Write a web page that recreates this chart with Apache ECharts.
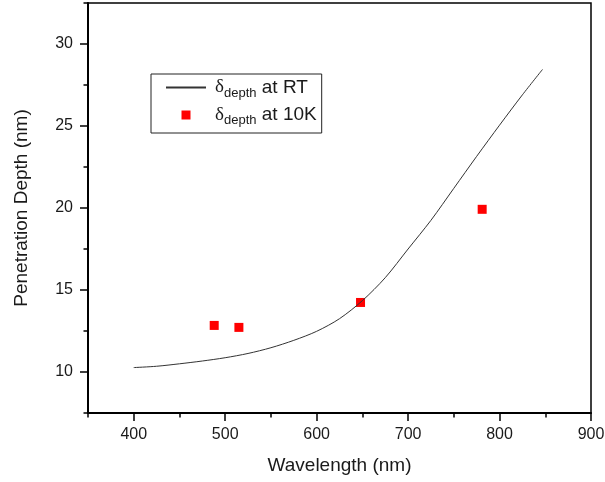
<!DOCTYPE html>
<html>
<head>
<meta charset="utf-8">
<script src="https://cdn.jsdelivr.net/npm/echarts@6/dist/echarts.min.js"></script>
<style>
  html, body { margin: 0; padding: 0; background: #fff; }
  #main { width: 605px; height: 482px; }
</style>
</head>
<body>
<div id="main"></div>
<script>
// curve at room temperature
var wavelengthRT = [400, 425, 450, 475, 500, 525, 550, 575, 600, 625, 650, 675, 700, 725, 750, 775, 800, 825, 847];
var depthRT = [10.27, 10.35, 10.5, 10.67, 10.87, 11.13, 11.48, 11.93, 12.48, 13.25, 14.35, 15.75, 17.5, 19.25, 21.2, 23.15, 25.05, 26.9, 28.45];

// measured points at 10K
var wavelength10K = [488, 515, 648, 781];
var depth10K = [12.84, 12.72, 14.24, 19.92];

// axis ticks
var xMajorTicks = [400, 500, 600, 700, 800, 900];
var yMajorTicks = [10, 15, 20, 25, 30];

var chart = echarts.init(document.getElementById('main'), null, { renderer: 'canvas' });

var textColor = '#1a1a1a';
var font = 'Arial, "Liberation Sans", sans-serif';

// legend text: delta with subscript "depth"
function legendLabel(name) {
  return '{g|δ}{s|depth}{t| at ' + name + '}';
}

var option = {
  backgroundColor: '#fff',
  animation: false,
  textStyle: { fontFamily: font, color: textColor },
  grid: {
    left: 88,
    right: 14,
    top: 3,
    bottom: 69,
    show: true,
    borderColor: '#000',
    borderWidth: 1.5,
    outerBoundsMode: 'none'
  },
  legend: {
    orient: 'vertical',
    left: 151,
    top: 74,
    padding: [4, 5, 6, 14],
    itemGap: 6,
    itemWidth: 40,
    itemHeight: 9,
    borderColor: '#222',
    borderWidth: 1,
    selectedMode: false,
    data: [
      { name: 'RT', itemStyle: { opacity: 0 } },
      { name: '10K', icon: 'path://M0,0H10V10H0Z' }
    ],
    formatter: legendLabel,
    textStyle: {
      color: textColor,
      rich: {
        g: { fontSize: 19, fontFamily: '"Liberation Serif", serif', lineHeight: 24, padding: [0, 0, 0, 4] },
        s: { fontSize: 13, fontFamily: font, lineHeight: 13, verticalAlign: 'bottom' },
        t: { fontSize: 19, fontFamily: font, lineHeight: 24 }
      }
    }
  },
  xAxis: [
    {
      type: 'value',
      min: 350,
      max: 900,
      interval: 50,
      position: 'bottom',
      name: 'Wavelength (nm)',
      nameLocation: 'middle',
      nameGap: 43,
      nameTextStyle: { fontSize: 19, color: textColor },
      axisLine: { onZero: false, lineStyle: { color: '#000', width: 2 } },
      axisTick: { inside: false, length: 4.5, lineStyle: { color: '#000', width: 1.5 } },
      axisLabel: { customValues: xMajorTicks, fontSize: 16, margin: 14, color: textColor },
      splitLine: { show: false }
    },
    {
      // longer ticks at labelled values
      type: 'value',
      min: 350,
      max: 900,
      interval: 50,
      position: 'bottom',
      axisLine: { show: false },
      axisTick: { customValues: xMajorTicks, inside: false, length: 8, lineStyle: { color: '#000', width: 1.5 } },
      axisLabel: { show: false },
      splitLine: { show: false }
    }
  ],
  yAxis: [
    {
      type: 'value',
      min: 7.5,
      max: 32.5,
      interval: 2.5,
      position: 'left',
      name: 'Penetration Depth (nm)',
      nameLocation: 'middle',
      nameGap: 57,
      nameRotate: 90,
      nameTextStyle: { fontSize: 19, color: textColor },
      axisLine: { onZero: false, lineStyle: { color: '#000', width: 2 } },
      axisTick: { inside: false, length: 4.5, lineStyle: { color: '#000', width: 1.5 } },
      axisLabel: { customValues: yMajorTicks, fontSize: 16, margin: 15, color: textColor },
      splitLine: { show: false }
    },
    {
      type: 'value',
      min: 7.5,
      max: 32.5,
      interval: 2.5,
      position: 'left',
      axisLine: { show: false },
      axisTick: { customValues: yMajorTicks, inside: false, length: 8, lineStyle: { color: '#000', width: 1.5 } },
      axisLabel: { show: false },
      splitLine: { show: false }
    }
  ],
  series: [
    {
      name: 'RT',
      type: 'line',
      xAxisIndex: 0,
      yAxisIndex: 0,
      symbol: 'none',
      smooth: 0.3,
      lineStyle: { color: '#333', width: 1 },
      itemStyle: { color: '#333' },
      data: wavelengthRT.map(function (w, i) { return [w, depthRT[i]]; })
    },
    {
      name: '10K',
      type: 'scatter',
      xAxisIndex: 0,
      yAxisIndex: 0,
      symbol: 'rect',
      symbolSize: 9,
      itemStyle: { color: '#ff0000', opacity: 1 },
      data: wavelength10K.map(function (w, i) { return [w, depth10K[i]]; })
    }
  ]
};

chart.setOption(option);
</script>
</body>
</html>
